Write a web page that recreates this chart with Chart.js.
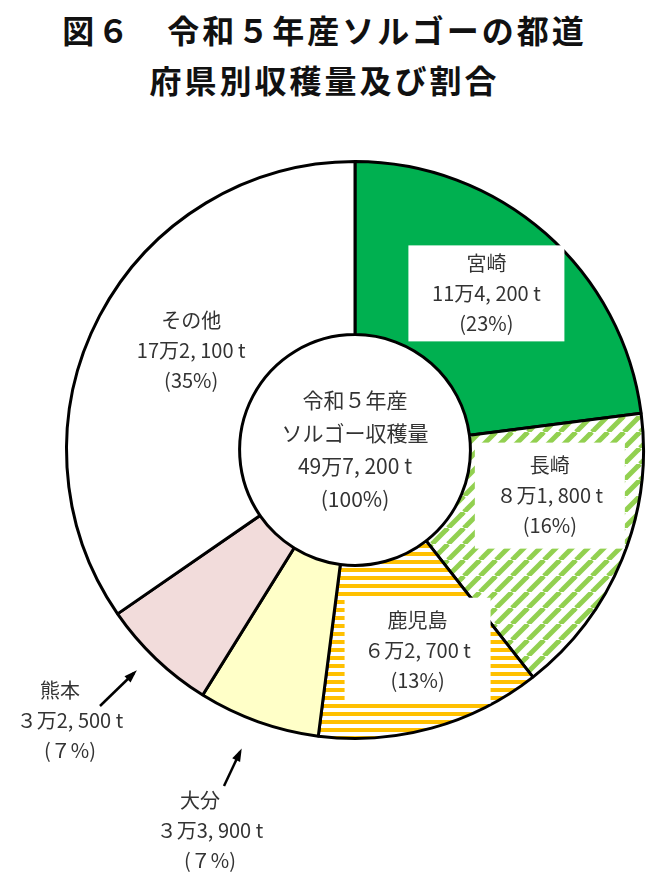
<!DOCTYPE html>
<html><head><meta charset="utf-8">
<script src="https://cdn.jsdelivr.net/npm/chart.js@4"></script>
<style>
body{margin:0;background:#fff;width:649px;height:875px;overflow:hidden;position:relative}
#t{position:absolute;top:4px;left:0;width:649px;text-align:center;font:bold 32px "Noto Sans CJK JP";line-height:50px;color:#111;letter-spacing:3px}
canvas{position:absolute;top:0;left:0}
</style></head><body>
<div id="t">図６　令和５年産ソルゴーの都道<br>府県別収穫量及び割合</div>
<canvas id="c" width="649" height="875"></canvas>
<script>
const categories=["宮崎","長崎","鹿児島","大分","熊本","その他"];
const values=[114200,81800,62700,33900,32500,172100];
const amountLabels=["11万4, 200 t","８万1, 800 t","６万2, 700 t","３万3, 900 t","３万2, 500 t","17万2, 100 t"];
const pctLabels=["(23%)","(16%)","(13%)","(７%)","(７%)","(35%)"];
const ctx0=document.getElementById('c').getContext('2d');
function pat(fn){const p=document.createElement('canvas');p.width=16;p.height=16;const g=p.getContext('2d');g.fillStyle='#fff';g.fillRect(0,0,16,16);fn(g);return ctx0.createPattern(p,'repeat');}
const green=pat(g=>{g.strokeStyle='#92D050';g.lineWidth=5;for(let k=-16;k<=32;k+=16){g.beginPath();g.moveTo(k,16);g.lineTo(k+16,0);g.stroke();}});
const orange=pat(g=>{g.fillStyle='#FFC000';g.fillRect(0,0,16,4);g.fillRect(0,8,16,4);});
const colors=['#00B050',green,orange,'#FFFFC8','#F2DCDB','#fff'];
const F='"Noto Sans CJK JP"';
const labelPlugin={id:'lbl',afterDraw(ch){
 const c=ch.ctx,m=ch.getDatasetMeta(0);c.save();c.textAlign='center';c.textBaseline='middle';
 const a0=m.data[0];const cx=a0.x,cy=a0.y;
 c.fillStyle='#333';c.font='21px '+F;
 ["令和５年産","ソルゴー収穫量","49万7, 200 t","(100%)"].forEach((s,i)=>c.fillText(s,cx,cy-50+i*33));
 const boxes={0:[-2,-5,156,96],1:[8,-31,150,106],2:[9,6,146,106]};
 c.font='20px '+F;
 [0,1,2,5].forEach(i=>{const p=m.data[i].tooltipPosition();let x=p.x,y=p.y;
  if(boxes[i]){const b=boxes[i];x+=b[0];y+=b[1];c.fillStyle='#fff';c.fillRect(x-b[2]/2,y-b[3]/2,b[2],b[3]);}
  else{x+=15;y-=6;}
  c.fillStyle='#333';[categories[i],amountLabels[i],pctLabels[i]].forEach((s,k)=>c.fillText(s,x,y-30+k*30));});
 const out=[[4,60,690,100,706,134,673],[3,200,800,224,786,240,752]];
 out.forEach(([i,x,y,ax,ay,bx,by])=>{c.fillStyle='#333';[categories[i],amountLabels[i],pctLabels[i]].forEach((s,k)=>c.fillText(s,x+(k?10:0),y+k*30));
  c.strokeStyle='#000';c.lineWidth=2.5;c.beginPath();c.moveTo(ax,ay);c.lineTo(bx,by);c.stroke();
  const an=Math.atan2(by-ay,bx-ax);c.fillStyle='#000';c.beginPath();c.moveTo(bx+4*Math.cos(an),by+4*Math.sin(an));
  c.lineTo(bx-10*Math.cos(an-0.45),by-10*Math.sin(an-0.45));c.lineTo(bx-10*Math.cos(an+0.45),by-10*Math.sin(an+0.45));c.fill();});
 c.restore();}};
new Chart(ctx0,{type:'doughnut',data:{labels:categories,datasets:[{data:values,backgroundColor:colors,borderColor:'#000',borderWidth:3}]},
options:{responsive:false,animation:false,cutout:'40%',rotation:0,
layout:{padding:{left:65,right:4,top:160,bottom:135}},
plugins:{legend:{display:false},tooltip:{enabled:false}}},plugins:[labelPlugin]});
</script></body></html>
